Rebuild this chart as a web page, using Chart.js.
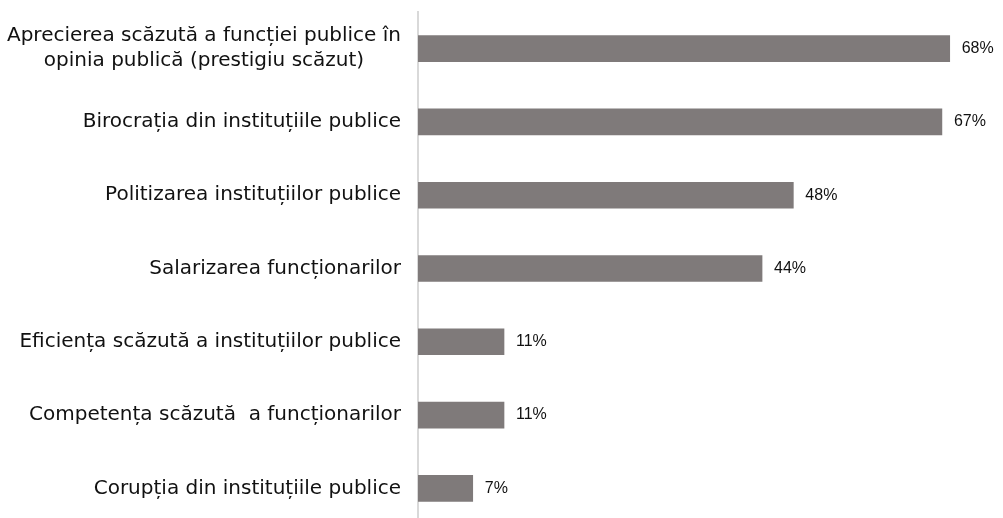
<!DOCTYPE html>
<html>
<head>
<meta charset="utf-8">
<script src="https://cdn.jsdelivr.net/npm/chart.js@4"></script>
<style>
  html, body { margin: 0; padding: 0; background: #ffffff; overflow: hidden; }
  #wrap { width: 1003px; height: 518px; overflow: hidden; }
</style>
</head>
<body>
<div id="wrap"><canvas id="chart" width="1003" height="531"></canvas></div>
<script>
// Problems perceived in the public administration (share of respondents, %)
const categories = [
  ['Aprecierea scăzută a funcției publice în', 'opinia publică (prestigiu scăzut)'],
  'Birocrația din instituțiile publice',
  'Politizarea instituțiilor publice',
  'Salarizarea funcționarilor',
  'Eficiența scăzută a instituțiilor publice',
  'Competența scăzută  a funcționarilor',
  'Corupția din instituțiile publice'
];
const values = [68, 67, 48, 44, 11, 11, 7];

const BAR_COLOR = '#7f7a7a';
const LABEL_FONT = '20px "DejaVu Sans"';
const VALUE_FONT = '16px "Liberation Sans"';
const LABEL_RIGHT = 401;

// Category labels: right-aligned block, multi-line labels centred within their block
const categoryLabels = {
  id: 'categoryLabels',
  afterDraw(chart) {
    const ctx = chart.ctx;
    const y = chart.scales.y;
    ctx.save();
    ctx.font = LABEL_FONT;
    ctx.fillStyle = '#111111';
    ctx.textBaseline = 'middle';
    ctx.textAlign = 'center';
    const lineH = 25;
    categories.forEach((lab, i) => {
      const lines = Array.isArray(lab) ? lab : [lab];
      const maxW = Math.max(...lines.map(l => ctx.measureText(l).width));
      const cx = LABEL_RIGHT - maxW / 2;
      const cy = y.getPixelForTick(i);
      const y0 = cy - (lines.length - 1) * lineH / 2;
      lines.forEach((l, k) => ctx.fillText(l, cx, y0 + k * lineH));
    });
    ctx.restore();
  }
};

// Percentage labels at the end of each bar
const valueLabels = {
  id: 'valueLabels',
  afterDatasetsDraw(chart) {
    const ctx = chart.ctx;
    const meta = chart.getDatasetMeta(0);
    ctx.save();
    ctx.font = VALUE_FONT;
    ctx.fillStyle = '#111111';
    ctx.textBaseline = 'middle';
    ctx.textAlign = 'left';
    meta.data.forEach((bar, i) => {
      ctx.fillText(values[i] + '%', bar.x + 12, bar.y);
    });
    ctx.restore();
  }
};

new Chart(document.getElementById('chart'), {
  type: 'bar',
  data: {
    labels: categories,
    datasets: [{
      data: values,
      backgroundColor: BAR_COLOR,
      borderWidth: 0,
      barThickness: 26
    }]
  },
  options: {
    indexAxis: 'y',
    responsive: false,
    animation: false,
    layout: { padding: { top: 12, bottom: 6, left: 0, right: 22 } },
    plugins: { legend: { display: false }, tooltip: { enabled: false } },
    scales: {
      x: {
        display: false,
        min: 0,
        max: 72,
        grid: { display: false }
      },
      y: {
        grid: { display: false, drawTicks: false },
        border: { display: true, color: '#d9d9d9', width: 2 },
        ticks: { display: false },
        afterFit(scale) { scale.width = 418; }
      }
    }
  },
  plugins: [categoryLabels, valueLabels]
});
</script>
</body>
</html>
